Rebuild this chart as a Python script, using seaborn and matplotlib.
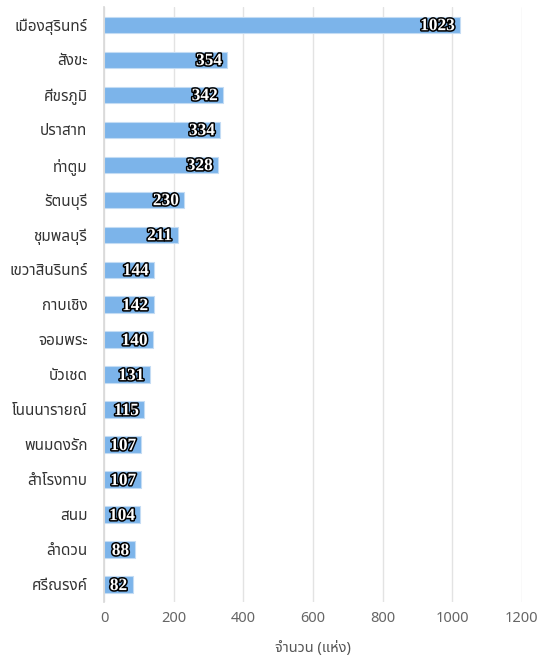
import matplotlib
matplotlib.use('Agg')
import matplotlib.pyplot as plt
import matplotlib.patheffects as pe
import seaborn as sns
import pandas as pd

districts = ['เมืองสุรินทร์', 'สังขะ', 'ศีขรภูมิ', 'ปราสาท', 'ท่าตูม', 'รัตนบุรี', 'ชุมพลบุรี',
             'เขวาสินรินทร์', 'กาบเชิง', 'จอมพระ', 'บัวเชด', 'โนนนารายณ์', 'พนมดงรัก',
             'สำโรงทาบ', 'สนม', 'ลำดวน', 'ศรีณรงค์']
counts = [1023, 354, 342, 334, 328, 230, 211, 144, 142, 140, 131, 115, 107, 107, 104, 88, 82]

sns.set_theme(style='whitegrid')
plt.rcParams['font.family'] = ['Noto Sans Thai', 'DejaVu Sans']

df = pd.DataFrame({'district': districts, 'count': counts})

fig = plt.figure(figsize=(5.51, 6.61), dpi=100)
ax = fig.add_axes([0.189, 0.089, 0.758, 0.9])
sns.barplot(data=df, x='count', y='district', orient='h', color='#7cb4ea',
            width=0.47, edgecolor='#c4dcf4', linewidth=0.8, saturation=1, ax=ax)

# value labels inside the bar ends
for i, v in enumerate(counts):
    ax.text(v - 15, i + 0.04, str(v), ha='right', va='center', color='white',
            fontsize=12.5, fontweight='bold', family='Liberation Serif',
            path_effects=[pe.withStroke(linewidth=2.2, foreground='black')])

ax.set_xlim(0, 1200)
ax.set_xticks(range(0, 1201, 200))
ax.set_ylim(16.5, -0.5)
ax.set_ylabel('')
ax.set_xlabel('จำนวน (แห่ง)', fontsize=10.5, color='#555555', labelpad=11)
ax.grid(axis='x', color='#e3e3e3', linewidth=1)
ax.grid(axis='y', visible=False)
for s in ['top', 'right', 'bottom']:
    ax.spines[s].set_visible(False)
ax.spines['left'].set_color('#d9d9d9')
ax.tick_params(axis='y', labelsize=11, labelcolor='#333333', pad=12, length=0)
ax.tick_params(axis='x', labelsize=10.5, labelcolor='#666666', pad=6, length=0)

fig.savefig('out.png', dpi=100)
